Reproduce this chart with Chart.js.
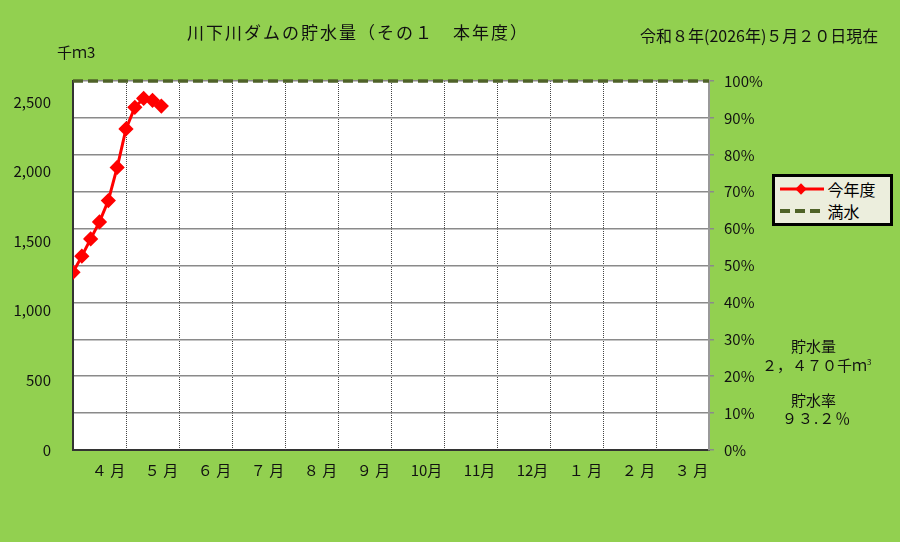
<!DOCTYPE html>
<html>
<head>
<meta charset="utf-8">
<script src="https://cdn.jsdelivr.net/npm/chart.js@4"></script>
<style>
  body { margin: 0; background: #92d050; font-family: "Noto Sans CJK JP", sans-serif; }
  #wrap { position: relative; width: 900px; height: 542px; }
  .txt { position: absolute; color: #111; white-space: nowrap; }
  #legend { position: absolute; left: 772px; top: 174px; width: 115px; height: 46px;
    background: #eceedd; border: 3px solid #000; font-size: 16px; }
  #legend .row { position: absolute; left: 5px; height: 22px; line-height: 22px; }
  #legend .sw { display: inline-block; width: 44px; height: 22px; vertical-align: top; position: relative; }
</style>
</head>
<body>
<div id="wrap">
  <canvas id="myChart" width="900" height="542"></canvas>
  <div class="txt" style="left:187px;top:19px;font-size:17px;letter-spacing:2px;">川下川ダムの貯水量（その１　本年度）</div>
  <div class="txt" style="left:640px;top:23px;font-size:16px;">令和８年(2026年)５月２０日現在</div>
  <div class="txt" style="left:57px;top:41px;font-size:15px;">千ｍ3</div>
  <div class="txt" style="left:791px;top:335px;font-size:15px;">貯水量</div>
  <div class="txt" style="left:762px;top:354px;font-size:15px;">２，４７０千ｍ<sup style="font-size:8px">3</sup></div>
  <div class="txt" style="left:791px;top:389px;font-size:15px;">貯水率</div>
  <div class="txt" style="left:782px;top:407px;font-size:15px;letter-spacing:1px;">９３.２％</div>
  <div id="legend">
    <div class="row" style="top:1px;"><span class="sw"><svg width="44" height="22"><line x1="0" y1="11" x2="44" y2="11" stroke="#ff0000" stroke-width="3"/><rect x="17" y="7" width="8" height="8" fill="#ff0000" transform="rotate(45 21 11)"/></svg></span> 今年度</div>
    <div class="row" style="top:23px;"><span class="sw"><svg width="44" height="22"><line x1="0" y1="11" x2="44" y2="11" stroke="#4f6228" stroke-width="4" stroke-dasharray="10,5"/></svg></span> 満水</div>
  </div>
</div>
<script>
// 5日ごとの貯水量（千m3）、4月1日から
const storage = [1276, 1392, 1516, 1638, 1791, 2029, 2306, 2461, 2525, 2511, 2470];
const fullWater = 2650;
const months = ['４ 月', '５ 月', '６ 月', '７ 月', '８ 月', '９ 月', '10月', '11月', '12月', '１ 月', '２ 月', '３ 月'];
const stepsPerMonth = 6;
const percentTicks = [0, 10, 20, 30, 40, 50, 60, 70, 80, 90, 100];
const volumeTicks = [0, 500, 1000, 1500, 2000, 2500];

const totalSteps = months.length * stepsPerMonth;
const fnt = { family: '"Noto Sans CJK JP", sans-serif', size: 15 };

const plotBg = {
  id: 'plotBg',
  beforeDraw(chart) {
    const a = chart.chartArea, ctx = chart.ctx;
    ctx.save();
    ctx.fillStyle = '#92d050';
    ctx.fillRect(0, 0, chart.width, chart.height);
    ctx.fillStyle = '#ffffff';
    ctx.fillRect(a.left, a.top, a.right - a.left, a.bottom - a.top);
    ctx.restore();
  }
};

new Chart(document.getElementById('myChart'), {
  type: 'line',
  data: {
    datasets: [
      {
        label: '今年度',
        data: storage.map((v, i) => ({ x: i, y: v })),
        borderColor: '#ff0000',
        backgroundColor: '#ff0000',
        borderWidth: 3,
        pointStyle: 'rectRot',
        pointRadius: 5.5,
        tension: 0,
        xAxisID: 'x',
        yAxisID: 'y',
        order: 0
      },
      {
        label: '満水',
        data: [{ x: 0, y: fullWater }, { x: totalSteps, y: fullWater }],
        borderColor: '#4f6228',
        borderWidth: 3.5,
        borderDash: [10, 5],
        pointRadius: 0,
        clip: 6,
        xAxisID: 'x',
        yAxisID: 'y',
        order: 1
      }
    ]
  },
  options: {
    responsive: false,
    animation: false,
    layout: { padding: { top: 81, left: 0, right: 0, bottom: 0 } },
    plugins: { legend: { display: false }, tooltip: { enabled: false } },
    scales: {
      x: {
        type: 'linear',
        position: 'bottom',
        min: 0,
        max: totalSteps,
        afterBuildTicks: s => { s.ticks = months.map((m, i) => ({ value: i * stepsPerMonth })).concat([{ value: totalSteps }]); },
        ticks: { display: false },
        grid: { color: '#444', lineWidth: 1, drawTicks: false },
        border: { color: '#333', width: 2, dash: [1, 1] },
        afterFit: s => { s.height = 0; }
      },
      xm: {
        type: 'category',
        position: 'bottom',
        labels: months,
        offset: true,
        grid: { display: false, drawTicks: false },
        border: { display: false },
        ticks: { color: '#111', font: fnt, padding: 11, labelOffset: 9, maxRotation: 0, autoSkip: false },
        afterFit: s => { s.height = 92; }
      },
      y: {
        position: 'left',
        min: 0,
        max: fullWater,
        afterBuildTicks: s => { s.ticks = volumeTicks.map(v => ({ value: v })); },
        ticks: { color: '#111', font: fnt, padding: 14, callback: v => v.toLocaleString('en-US') },
        grid: { display: false },
        border: { color: '#333', width: 2 },
        afterFit: s => { s.width = 73; }
      },
      y2: {
        position: 'right',
        min: 0,
        max: 100,
        afterBuildTicks: s => { s.ticks = percentTicks.map(v => ({ value: v })); },
        ticks: { color: '#111', font: fnt, padding: 10, callback: v => v + '%' },
        grid: { color: '#8a8a8a', lineWidth: 1.5, tickLength: 5 },
        border: { color: '#999', width: 2 },
        afterFit: s => { s.width = 191; }
      }
    }
  },
  plugins: [plotBg]
});
</script>
</body>
</html>
